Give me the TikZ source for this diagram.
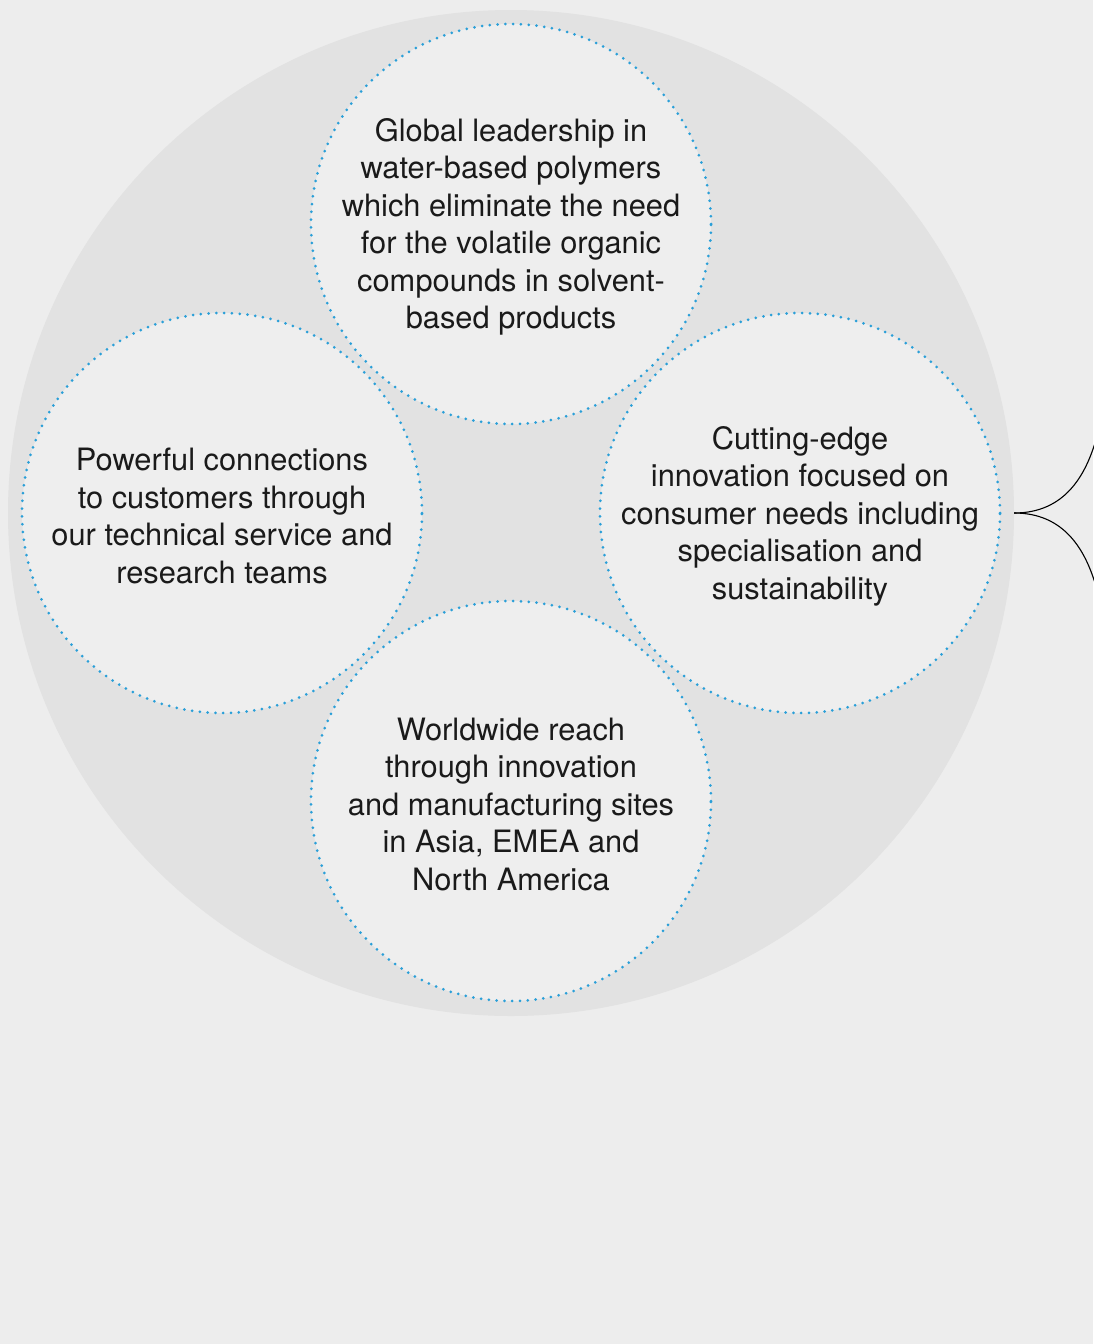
\documentclass[tikz,border=0pt]{standalone}
\usepackage{fontspec}
\setmainfont{TeX Gyre Heros}
\definecolor{pagebg}{HTML}{EDEDED}
\definecolor{bigdisc}{HTML}{E2E2E2}
\definecolor{smalldisc}{HTML}{EEEEEE}
\definecolor{dotblue}{HTML}{2A9FD8}
\definecolor{textdark}{HTML}{1A1A1A}
\begin{document}
\begin{tikzpicture}[x=1pt,y=-1pt,
  pillar/.style={circle, minimum size=400pt, inner sep=0pt, fill=smalldisc,
    draw=dotblue, line width=3pt, line cap=round, dash pattern=on 0pt off 7.8pt},
  pillartext/.style={font=\fontsize{30.8}{37.5}\selectfont, text=textdark, align=center, yshift=-3pt},
  bracketline/.style={draw=black, line width=1.1pt}]
  \useasboundingbox[fill=pagebg] (0,0) rectangle (1093,1344);
  % large background disc
  \node[circle, minimum size=1006pt, inner sep=0pt, fill=bigdisc] (hub) at (511,513) {};
  % four pillar circles
  \node[pillar] (top) at (511,224) {};
  \node[pillar] (left) at (222,513) {};
  \node[pillar] (right) at (800,513) {};
  \node[pillar] (bottom) at (511,801) {};
  \node[pillartext] at (top.center) {Global leadership in\\water-based polymers\\which eliminate the need\\for the volatile organic\\compounds in solvent-\\based products};
  \node[pillartext] at (left.center) {Powerful connections\\to customers through\\our technical service and\\research teams};
  \node[pillartext] at (right.center) {Cutting-edge\\innovation focused on\\consumer needs including\\specialisation and\\sustainability};
  \node[pillartext] at (bottom.center) {Worldwide reach\\through innovation\\and manufacturing sites\\in Asia, EMEA and\\North America};
  % brace leading off to the right
  \coordinate (braceup) at (1095,443);
  \coordinate (bracedown) at (1095,583);
  \draw[bracketline] (hub.east) .. controls (1065,513) and (1085,475) .. (braceup);
  \draw[bracketline] (hub.east) .. controls (1065,513) and (1085,551) .. (bracedown);
\end{tikzpicture}
\end{document}
